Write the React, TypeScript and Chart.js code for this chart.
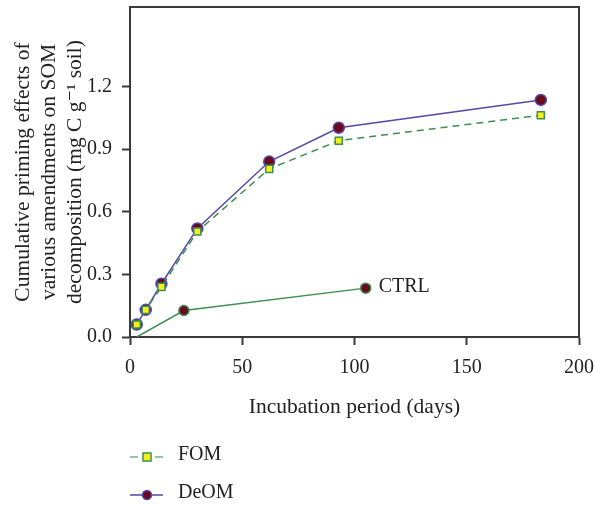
import React, { useEffect, useRef } from "react";
import { Chart, registerables } from "chart.js";

Chart.register(...registerables);

const fomDays = [3, 7, 14, 30, 62, 93, 183];
const fomValues = [0.06, 0.13, 0.24, 0.505, 0.805, 0.94, 1.062];
const deomDays = [3, 7, 14, 30, 62, 93, 183];
const deomValues = [0.06, 0.13, 0.255, 0.52, 0.84, 1.002, 1.135];
const ctrlDays = [3, 24, 105];
const ctrlValues = [0.0, 0.127, 0.234];
const yTicks = [0, 0.3, 0.6, 0.9, 1.2];
const xTicks = [0, 50, 100, 150, 200];
const yTitle = ["Cumulative priming effects of", "various amendments on SOM", "decomposition (mg C g\u207B\u00B9 soil)"];
const xTitle = "Incubation period (days)";

const FONT = "'Liberation Serif', 'DejaVu Serif', serif";
const PURPLE = "#5548a8";
const DARKRED = "#6b0a1e";
const GREEN = "#3d8f4f";
const LEGEND_GREEN = "#7fae86";
const YELLOW = "#f7ee1e";
const AXIS = "#3a3a3a";
const FS = 20;
const TFS = 21.5;

const extras = {
  id: "extras",
  afterDraw(chart: any) {
    const { ctx, chartArea, scales } = chart;
    ctx.save();
    ctx.strokeStyle = AXIS;
    ctx.lineWidth = 2;
    ctx.beginPath();
    ctx.moveTo(chartArea.left, chartArea.top);
    ctx.lineTo(chartArea.right, chartArea.top);
    ctx.lineTo(chartArea.right, chartArea.bottom);
    ctx.stroke();
    const lx = scales.x.getPixelForValue(ctrlDays[ctrlDays.length - 1]);
    const ly = scales.y.getPixelForValue(ctrlValues[ctrlValues.length - 1]);
    ctx.fillStyle = "#222";
    ctx.font = `${FS}px ${FONT}`;
    ctx.textBaseline = "middle";
    ctx.textAlign = "left";
    ctx.fillText("CTRL", lx + 13, ly - 1);
    const x0 = chartArea.left;
    const rows = [
      { y: 457, label: "FOM", dash: [6, 5], color: LEGEND_GREEN, fill: YELLOW, border: GREEN, shape: "rect" },
      { y: 495, label: "DeOM", dash: [], color: PURPLE, fill: DARKRED, border: PURPLE, shape: "circle" },
    ];
    rows.forEach((r) => {
      ctx.strokeStyle = r.color;
      ctx.lineWidth = 1.5;
      ctx.beginPath();
      if (r.dash.length) {
        ctx.moveTo(x0, r.y);
        ctx.lineTo(x0 + 8, r.y);
        ctx.moveTo(x0 + 25, r.y);
        ctx.lineTo(x0 + 33, r.y);
      } else {
        ctx.moveTo(x0, r.y);
        ctx.lineTo(x0 + 33, r.y);
      }
      ctx.stroke();
      ctx.fillStyle = r.fill;
      ctx.strokeStyle = r.border;
      ctx.lineWidth = 1.5;
      if (r.shape === "rect") {
        ctx.fillRect(x0 + 13, r.y - 4, 8, 8);
        ctx.strokeRect(x0 + 13, r.y - 4, 8, 8);
      } else {
        ctx.beginPath();
        ctx.arc(x0 + 17, r.y, 4.5, 0, Math.PI * 2);
        ctx.fill();
        ctx.stroke();
      }
      ctx.fillStyle = "#222";
      ctx.font = `${FS}px ${FONT}`;
      ctx.textAlign = "left";
      ctx.textBaseline = "middle";
      ctx.fillText(r.label, x0 + 48, r.y - 2);
    });
    ctx.restore();
  },
};

export default function App() {
  const ref = useRef<HTMLCanvasElement>(null);
  useEffect(() => {
    document.body.style.margin = "0";
    const toXY = (xs: number[], ys: number[]) => xs.map((x, i) => ({ x, y: ys[i] }));
    const chart = new Chart(ref.current!, {
      type: "line",
      data: {
        datasets: [
          {
            label: "CTRL",
            data: toXY(ctrlDays, ctrlValues),
            borderColor: GREEN,
            borderWidth: 1.5,
            pointRadius: ctrlDays.map((_, i) => (i === 0 ? 0 : 5)),
            pointBackgroundColor: DARKRED,
            pointBorderColor: GREEN,
            pointBorderWidth: 1.5,
            tension: 0,
          },
          {
            label: "FOM",
            data: toXY(fomDays, fomValues),
            borderColor: GREEN,
            borderWidth: 1.5,
            borderDash: [7, 5],
            pointStyle: "rect",
            pointRadius: 5,
            pointBackgroundColor: YELLOW,
            pointBorderColor: GREEN,
            pointBorderWidth: 1.5,
            tension: 0,
          },
          {
            label: "DeOM",
            data: toXY(deomDays, deomValues),
            borderColor: PURPLE,
            borderWidth: 1.5,
            pointRadius: 5.5,
            pointBackgroundColor: DARKRED,
            pointBorderColor: PURPLE,
            pointBorderWidth: 1.5,
            tension: 0,
          },
        ],
      },
      options: {
        animation: false,
        responsive: false,
        maintainAspectRatio: false,
        layout: { padding: { left: 10, right: 16, top: 7, bottom: 86 } },
        plugins: { legend: { display: false }, tooltip: { enabled: false } },
        scales: {
          x: {
            type: "linear",
            min: 0,
            max: 200,
            afterBuildTicks: (s: any) => {
              s.ticks = xTicks.map((v) => ({ value: v }));
            },
            afterFit: (s: any) => {
              s.height = 83;
              s.paddingLeft = 0;
              s.paddingRight = 0;
            },
            grid: { drawOnChartArea: false, drawTicks: true, tickLength: 8, tickColor: AXIS, tickWidth: 2 },
            border: { display: true, color: AXIS, width: 2 },
            ticks: { color: "#222", font: { family: FONT, size: FS }, padding: 11, maxRotation: 0 },
            title: { display: true, text: xTitle, color: "#222", font: { family: FONT, size: TFS }, padding: 0 },
          },
          y: {
            type: "linear",
            min: 0,
            max: 1.58,
            afterBuildTicks: (s: any) => {
              s.ticks = yTicks.map((v) => ({ value: v }));
            },
            afterFit: (s: any) => {
              s.width = 120;
              s.paddingTop = 0;
              s.paddingBottom = 0;
            },
            grid: { drawOnChartArea: false, drawTicks: true, tickLength: 8, tickColor: AXIS, tickWidth: 2 },
            border: { display: true, color: AXIS, width: 2 },
            ticks: { color: "#222", font: { family: FONT, size: FS }, padding: 10, callback: (v: any) => Number(v).toFixed(1) },
            title: { display: true, text: yTitle, color: "#222", font: { family: FONT, size: TFS, lineHeight: "26px" }, padding: 0 },
          },
        },
      },
      plugins: [extras],
    });
    return () => chart.destroy();
  }, []);
  return (
    <div style={{ width: 595, height: 506 }}>
      <canvas ref={ref} width={595} height={506} style={{ display: "block" }} />
    </div>
  );
}
